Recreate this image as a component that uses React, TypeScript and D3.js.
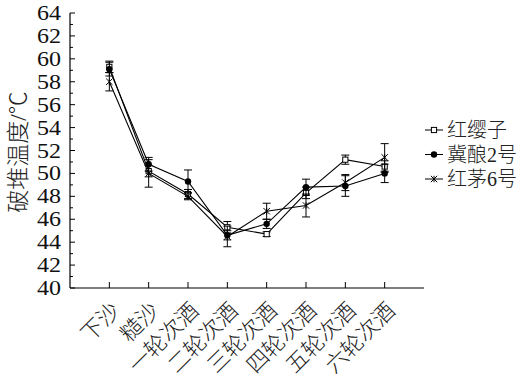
import React from "react";
import * as d3 from "d3";

const categories = ["下沙", "糙沙", "一轮次酒", "二轮次酒", "三轮次酒", "四轮次酒", "五轮次酒", "六轮次酒"];
const seriesNames = ["红缨子", "冀酿2号", "红茅6号"];
const hongyingzi = [59.3, 50.2, 48.2, 45.3, 44.7, 48.3, 51.2, 50.6];
const hongyingziErr = [0.5, 0.5, 0.4, 0.5, 0.2, 0.5, 0.4, 0.5];
const jiniang2 = [59.1, 50.8, 49.3, 44.6, 45.6, 48.8, 48.9, 50.0];
const jiniang2Err = [0.6, 0.6, 1.0, 0.4, 0.4, 0.7, 0.9, 0.8];
const hongmao6 = [58.0, 50.0, 48.0, 44.5, 46.7, 47.2, 49.2, 51.4];
const hongmao6Err = [0.8, 1.2, 0.3, 0.9, 0.7, 1.0, 0.7, 1.2];
const yTicks = [40, 42, 44, 46, 48, 50, 52, 54, 56, 58, 60, 62, 64];

const W = 526, H = 381;
const left = 70, right = 424, top = 13, bottom = 288;

export default function App() {
  const x = d3.scaleLinear().domain([0, 9]).range([left, right]);
  const y = d3.scaleLinear().domain([40, 64]).range([bottom, top]);
  const series = [
    { name: seriesNames[0], v: hongyingzi, e: hongyingziErr, m: "square" },
    { name: seriesNames[1], v: jiniang2, e: jiniang2Err, m: "circle" },
    { name: seriesNames[2], v: hongmao6, e: hongmao6Err, m: "star" },
  ];
  const line = d3.line<number>().x((_, i) => x(i + 1)).y((d) => y(d));
  const minor = d3.range(41, 64, 2);
  const serif = "'Liberation Serif', 'Noto Sans CJK SC', serif";

  const marker = (m: string, cx: number, cy: number, key: string) => {
    if (m === "square")
      return <rect key={key} x={cx - 2.6} y={cy - 2.6} width={5.2} height={5.2} fill="#fff" stroke="#000" strokeWidth={1} />;
    if (m === "circle") return <circle key={key} cx={cx} cy={cy} r={3.2} fill="#000" />;
    const s = 3.2;
    return (
      <g key={key} stroke="#000" strokeWidth={1}>
        <line x1={cx - s} y1={cy - s} x2={cx + s} y2={cy + s} />
        <line x1={cx - s} y1={cy + s} x2={cx + s} y2={cy - s} />
        <line x1={cx} y1={cy - s} x2={cx} y2={cy + s} />
      </g>
    );
  };

  return (
    <svg width={W} height={H} style={{ position: "absolute", left: 0, top: 0, background: "#fff" }} fontFamily={serif}>
      {/* axes */}
      <line x1={left} y1={top} x2={left} y2={bottom} stroke="#000" strokeWidth={1.2} />
      <line x1={left} y1={bottom} x2={right} y2={bottom} stroke="#000" strokeWidth={1.2} />
      {yTicks.map((t) => (
        <g key={"yt" + t}>
          <line x1={left} x2={left + 5} y1={y(t)} y2={y(t)} stroke="#000" strokeWidth={1} />
          <text transform={`translate(${left - 9},${y(t)}) scale(1.2,1)`} dy="0.35em" textAnchor="end" fontSize={20} fill="#111">{t}</text>
        </g>
      ))}
      {minor.map((t) => (
        <line key={"ym" + t} x1={left} x2={left + 3} y1={y(t)} y2={y(t)} stroke="#000" strokeWidth={1} />
      ))}
      {categories.map((c, i) => (
        <g key={"xc" + i}>
          <line x1={x(i + 1)} x2={x(i + 1)} y1={bottom} y2={bottom - 6} stroke="#000" strokeWidth={1} />
          <text transform={`translate(${x(i + 1) + 12},${bottom + 24}) rotate(-45)`} textAnchor="end" fontSize={22} fontWeight={300} fill="#222">{c}</text>
        </g>
      ))}
      <text transform={`translate(26,${152}) rotate(-90)`} textAnchor="middle" fontSize={23} fontWeight={300} fill="#222">破堆温度/℃</text>

      {/* series */}
      {series.map((s, si) => (
        <g key={"s" + si}>
          <path d={line(s.v) || ""} fill="none" stroke="#000" strokeWidth={1.1} />
          {s.v.map((v, i) => {
            const cx = x(i + 1);
            const y1 = y(v + s.e[i]), y2 = y(v - s.e[i]);
            return (
              <g key={"e" + i} stroke="#000" strokeWidth={1}>
                <line x1={cx} x2={cx} y1={y1} y2={y2} />
                <line x1={cx - 4} x2={cx + 4} y1={y1} y2={y1} />
                <line x1={cx - 4} x2={cx + 4} y1={y2} y2={y2} />
              </g>
            );
          })}
          {s.v.map((v, i) => marker(s.m, x(i + 1), y(v), "m" + i))}
        </g>
      ))}

      {/* legend */}
      {series.map((s, i) => {
        const ly = 130 + i * 24.5;
        return (
          <g key={"lg" + i}>
            <line x1={425} x2={443} y1={ly} y2={ly} stroke="#000" strokeWidth={1} />
            {marker(s.m, 434, ly, "lm" + i)}
            <text x={447} y={ly} dy="0.36em" fontSize={20} fontWeight={300} fill="#222">{s.name}</text>
          </g>
        );
      })}
    </svg>
  );
}
